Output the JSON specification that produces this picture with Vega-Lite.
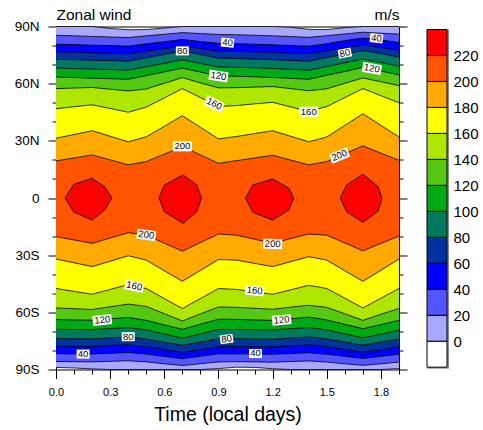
{
  "$schema": "https://vega.github.io/schema/vega-lite/v6.json",
  "padding": {"left": 13, "top": 6.5, "right": 0, "bottom": 0},
  "autosize": {"type": "pad"},
  "config": {
    "font": "Liberation Sans",
    "axis": {"tickColor": "black", "labelColor": "black", "titleColor": "black", "tickWidth": 1, "grid": false, "domain": false, "titleFontWeight": "normal", "labelFlush": false},
    "view": {"stroke": "black", "strokeWidth": 1}
  },
  "datasets": {
    "bands": [
      {"t":0,"lev":0,"s":-88.9,"n":90},{"t":0.1,"lev":0,"s":-89.2,"n":90},{"t":0.2,"lev":0,"s":-89.7,"n":90},{"t":0.3,"lev":0,"s":-90,"n":89.0},{"t":0.4,"lev":0,"s":-90,"n":88.3},{"t":0.5,"lev":0,"s":-90,"n":88.4},{"t":0.6,"lev":0,"s":-90,"n":89.2},{"t":0.7,"lev":0,"s":-90,"n":90},{"t":0.8,"lev":0,"s":-90,"n":90},{"t":0.9,"lev":0,"s":-89.5,"n":90},
      {"t":1.0,"lev":0,"s":-88.8,"n":90},{"t":1.1,"lev":0,"s":-88.9,"n":90},{"t":1.2,"lev":0,"s":-89.6,"n":90},{"t":1.3,"lev":0,"s":-90,"n":89.6},{"t":1.4,"lev":0,"s":-90,"n":88.5},{"t":1.5,"lev":0,"s":-90,"n":88.4},{"t":1.6,"lev":0,"s":-90,"n":89.4},{"t":1.7,"lev":0,"s":-90,"n":90},{"t":1.8,"lev":0,"s":-90,"n":90},{"t":1.9,"lev":0,"s":-89.5,"n":90},

      {"t":0,"lev":20,"s":-85.8,"n":85.4},{"t":0.1,"lev":20,"s":-85.9,"n":85.1},{"t":0.2,"lev":20,"s":-86.0,"n":84.8},{"t":0.3,"lev":20,"s":-85.7,"n":84.5},{"t":0.4,"lev":20,"s":-85.4,"n":84.2},{"t":0.5,"lev":20,"s":-86.0,"n":85.1},{"t":0.6,"lev":20,"s":-87.0,"n":85.9},{"t":0.7,"lev":20,"s":-87.9,"n":86.8},{"t":0.8,"lev":20,"s":-87.0,"n":86.3},{"t":0.9,"lev":20,"s":-86.0,"n":85.8},
      {"t":1.0,"lev":20,"s":-85.9,"n":85.7},{"t":1.1,"lev":20,"s":-86.0,"n":85.4},{"t":1.2,"lev":20,"s":-86.2,"n":85.1},{"t":1.3,"lev":20,"s":-85.8,"n":84.7},{"t":1.4,"lev":20,"s":-85.5,"n":84.3},{"t":1.5,"lev":20,"s":-86.1,"n":85.2},{"t":1.6,"lev":20,"s":-87.0,"n":86.1},{"t":1.7,"lev":20,"s":-87.8,"n":87.0},{"t":1.8,"lev":20,"s":-87.0,"n":86.5},{"t":1.9,"lev":20,"s":-86.1,"n":86.0},

      {"t":0,"lev":40,"s":-81.7,"n":80.7},{"t":0.1,"lev":40,"s":-81.8,"n":80.5},{"t":0.2,"lev":40,"s":-81.9,"n":80.2},{"t":0.3,"lev":40,"s":-81.5,"n":80.0},{"t":0.4,"lev":40,"s":-81.1,"n":79.7},{"t":0.5,"lev":40,"s":-81.9,"n":80.9},{"t":0.6,"lev":40,"s":-83.1,"n":82.0},{"t":0.7,"lev":40,"s":-84.3,"n":83.2},{"t":0.8,"lev":40,"s":-83.0,"n":82.1},{"t":0.9,"lev":40,"s":-81.8,"n":81.2},
      {"t":1.0,"lev":40,"s":-81.8,"n":81.0},{"t":1.1,"lev":40,"s":-81.9,"n":80.7},{"t":1.2,"lev":40,"s":-82.0,"n":80.4},{"t":1.3,"lev":40,"s":-81.6,"n":80.0},{"t":1.4,"lev":40,"s":-81.2,"n":79.7},{"t":1.5,"lev":40,"s":-82.0,"n":81.0},{"t":1.6,"lev":40,"s":-83.1,"n":82.6},{"t":1.7,"lev":40,"s":-84.2,"n":83.9},{"t":1.8,"lev":40,"s":-83.1,"n":82.9},{"t":1.9,"lev":40,"s":-82.0,"n":81.6},

      {"t":0,"lev":60,"s":-77.7,"n":76.7},{"t":0.1,"lev":60,"s":-77.8,"n":76.5},{"t":0.2,"lev":60,"s":-77.9,"n":76.2},{"t":0.3,"lev":60,"s":-77.4,"n":76.0},{"t":0.4,"lev":60,"s":-77.0,"n":75.7},{"t":0.5,"lev":60,"s":-78.0,"n":77.1},{"t":0.6,"lev":60,"s":-79.5,"n":78.4},{"t":0.7,"lev":60,"s":-81.0,"n":79.7},{"t":0.8,"lev":60,"s":-79.5,"n":78.4},{"t":0.9,"lev":60,"s":-77.9,"n":77.1},
      {"t":1.0,"lev":60,"s":-77.9,"n":76.9},{"t":1.1,"lev":60,"s":-78.0,"n":76.7},{"t":1.2,"lev":60,"s":-78.1,"n":76.4},{"t":1.3,"lev":60,"s":-77.6,"n":76.0},{"t":1.4,"lev":60,"s":-77.0,"n":75.7},{"t":1.5,"lev":60,"s":-78.0,"n":77.2},{"t":1.6,"lev":60,"s":-79.5,"n":78.7},{"t":1.7,"lev":60,"s":-80.9,"n":80.2},{"t":1.8,"lev":60,"s":-79.5,"n":78.9},{"t":1.9,"lev":60,"s":-78.0,"n":77.5},

      {"t":0,"lev":80,"s":-73.8,"n":72.8},{"t":0.1,"lev":80,"s":-73.9,"n":72.6},{"t":0.2,"lev":80,"s":-74.0,"n":72.3},{"t":0.3,"lev":80,"s":-73.4,"n":72.1},{"t":0.4,"lev":80,"s":-72.9,"n":71.8},{"t":0.5,"lev":80,"s":-74.0,"n":73.6},{"t":0.6,"lev":80,"s":-75.7,"n":75.3},{"t":0.7,"lev":80,"s":-77.3,"n":77.1},{"t":0.8,"lev":80,"s":-75.6,"n":75.3},{"t":0.9,"lev":80,"s":-73.9,"n":73.4},
      {"t":1.0,"lev":80,"s":-73.9,"n":73.2},{"t":1.1,"lev":80,"s":-74.0,"n":72.9},{"t":1.2,"lev":80,"s":-74.1,"n":72.6},{"t":1.3,"lev":80,"s":-73.5,"n":72.2},{"t":1.4,"lev":80,"s":-72.9,"n":71.8},{"t":1.5,"lev":80,"s":-74.0,"n":73.7},{"t":1.6,"lev":80,"s":-75.6,"n":75.5},{"t":1.7,"lev":80,"s":-77.2,"n":77.4},{"t":1.8,"lev":80,"s":-75.6,"n":75.8},{"t":1.9,"lev":80,"s":-74.0,"n":74.0},

      {"t":0,"lev":100,"s":-68.9,"n":68.2},{"t":0.1,"lev":100,"s":-69.0,"n":67.9},{"t":0.2,"lev":100,"s":-69.1,"n":67.7},{"t":0.3,"lev":100,"s":-68.5,"n":67.4},{"t":0.4,"lev":100,"s":-68.0,"n":67.1},{"t":0.5,"lev":100,"s":-69.2,"n":68.9},{"t":0.6,"lev":100,"s":-71.4,"n":70.7},{"t":0.7,"lev":100,"s":-73.5,"n":72.5},{"t":0.8,"lev":100,"s":-71.3,"n":70.6},{"t":0.9,"lev":100,"s":-69.0,"n":68.8},
      {"t":1.0,"lev":100,"s":-69.0,"n":68.6},{"t":1.1,"lev":100,"s":-69.1,"n":68.3},{"t":1.2,"lev":100,"s":-69.2,"n":68.0},{"t":1.3,"lev":100,"s":-68.6,"n":67.5},{"t":1.4,"lev":100,"s":-68.0,"n":67.1},{"t":1.5,"lev":100,"s":-69.2,"n":69.0},{"t":1.6,"lev":100,"s":-71.3,"n":71.0},{"t":1.7,"lev":100,"s":-73.4,"n":72.9},{"t":1.8,"lev":100,"s":-71.4,"n":71.1},{"t":1.9,"lev":100,"s":-69.3,"n":69.2},

      {"t":0,"lev":120,"s":-63.8,"n":63.5},{"t":0.1,"lev":120,"s":-64.0,"n":63.2},{"t":0.2,"lev":120,"s":-64.1,"n":62.9},{"t":0.3,"lev":120,"s":-63.4,"n":62.6},{"t":0.4,"lev":120,"s":-62.7,"n":62.3},{"t":0.5,"lev":120,"s":-64.2,"n":64.2},{"t":0.6,"lev":120,"s":-66.6,"n":66.2},{"t":0.7,"lev":120,"s":-68.9,"n":68.1},{"t":0.8,"lev":120,"s":-66.2,"n":66.1},{"t":0.9,"lev":120,"s":-63.6,"n":64.1},
      {"t":1.0,"lev":120,"s":-63.7,"n":63.9},{"t":1.1,"lev":120,"s":-64.0,"n":63.6},{"t":1.2,"lev":120,"s":-64.2,"n":63.2},{"t":1.3,"lev":120,"s":-63.4,"n":62.8},{"t":1.4,"lev":120,"s":-62.5,"n":62.3},{"t":1.5,"lev":120,"s":-64.0,"n":64.4},{"t":1.6,"lev":120,"s":-66.3,"n":66.4},{"t":1.7,"lev":120,"s":-68.6,"n":68.5},{"t":1.8,"lev":120,"s":-66.4,"n":66.6},{"t":1.9,"lev":120,"s":-64.2,"n":64.6},

      {"t":0,"lev":140,"s":-57.7,"n":57.4},{"t":0.1,"lev":140,"s":-58.1,"n":57.7},{"t":0.2,"lev":140,"s":-58.5,"n":58.0},{"t":0.3,"lev":140,"s":-57.1,"n":57.1},{"t":0.4,"lev":140,"s":-55.7,"n":56.2},{"t":0.5,"lev":140,"s":-56.9,"n":57.2},{"t":0.6,"lev":140,"s":-60.7,"n":60.2},{"t":0.7,"lev":140,"s":-64.5,"n":63.2},{"t":0.8,"lev":140,"s":-60.8,"n":60.4},{"t":0.9,"lev":140,"s":-57.2,"n":57.8},
      {"t":1.0,"lev":140,"s":-57.4,"n":57.9},{"t":1.1,"lev":140,"s":-57.9,"n":58.2},{"t":1.2,"lev":140,"s":-58.4,"n":58.5},{"t":1.3,"lev":140,"s":-57.3,"n":57.4},{"t":1.4,"lev":140,"s":-56.3,"n":56.3},{"t":1.5,"lev":140,"s":-57.4,"n":57.3},{"t":1.6,"lev":140,"s":-60.8,"n":60.2},{"t":1.7,"lev":140,"s":-64.2,"n":63.0},{"t":1.8,"lev":140,"s":-61.0,"n":61.0},{"t":1.9,"lev":140,"s":-58.0,"n":59.0},

      {"t":0,"lev":160,"s":-47.5,"n":46.8},{"t":0.1,"lev":160,"s":-49.0,"n":47.9},{"t":0.2,"lev":160,"s":-50.5,"n":48.9},{"t":0.3,"lev":160,"s":-48.0,"n":47.0},{"t":0.4,"lev":160,"s":-45.4,"n":45.0},{"t":0.5,"lev":160,"s":-47.5,"n":47.7},{"t":0.6,"lev":160,"s":-52.8,"n":52.5},{"t":0.7,"lev":160,"s":-58.0,"n":57.4},{"t":0.8,"lev":160,"s":-52.8,"n":52.7},{"t":0.9,"lev":160,"s":-47.5,"n":48.0},
      {"t":1.0,"lev":160,"s":-48.0,"n":48.5},{"t":1.1,"lev":160,"s":-49.3,"n":49.4},{"t":1.2,"lev":160,"s":-50.5,"n":50.2},{"t":1.3,"lev":160,"s":-48.2,"n":47.8},{"t":1.4,"lev":160,"s":-45.8,"n":45.4},{"t":1.5,"lev":160,"s":-47.5,"n":48.0},{"t":1.6,"lev":160,"s":-52.6,"n":52.7},{"t":1.7,"lev":160,"s":-57.7,"n":57.4},{"t":1.8,"lev":160,"s":-52.6,"n":53.7},{"t":1.9,"lev":160,"s":-47.5,"n":50.0},

      {"t":0,"lev":180,"s":-32.0,"n":31.4},{"t":0.1,"lev":180,"s":-34.0,"n":33.3},{"t":0.2,"lev":180,"s":-36.0,"n":35.3},{"t":0.3,"lev":180,"s":-33.2,"n":32.4},{"t":0.4,"lev":180,"s":-30.3,"n":29.5},{"t":0.5,"lev":180,"s":-32.6,"n":32.1},{"t":0.6,"lev":180,"s":-38.2,"n":37.6},{"t":0.7,"lev":180,"s":-43.7,"n":43.2},{"t":0.8,"lev":180,"s":-38.0,"n":37.1},{"t":0.9,"lev":180,"s":-32.3,"n":31.0},
      {"t":1.0,"lev":180,"s":-32.6,"n":32.3},{"t":1.1,"lev":180,"s":-34.3,"n":33.8},{"t":1.2,"lev":180,"s":-36.0,"n":35.3},{"t":1.3,"lev":180,"s":-33.4,"n":32.4},{"t":1.4,"lev":180,"s":-30.8,"n":29.5},{"t":1.5,"lev":180,"s":-32.6,"n":32.0},{"t":1.6,"lev":180,"s":-38.2,"n":38.1},{"t":1.7,"lev":180,"s":-43.7,"n":44.2},{"t":1.8,"lev":180,"s":-37.9,"n":38.1},{"t":1.9,"lev":180,"s":-32.0,"n":32.0},

      {"t":0,"lev":200,"s":-20.3,"n":19.5},{"t":0.1,"lev":200,"s":-22.0,"n":21.0},{"t":0.2,"lev":200,"s":-23.8,"n":22.6},{"t":0.3,"lev":200,"s":-21.0,"n":20.0},{"t":0.4,"lev":200,"s":-18.2,"n":17.4},{"t":0.5,"lev":200,"s":-19.5,"n":19.1},{"t":0.6,"lev":200,"s":-23.7,"n":23.0},{"t":0.7,"lev":200,"s":-27.9,"n":27.0},{"t":0.8,"lev":200,"s":-23.4,"n":22.6},{"t":0.9,"lev":200,"s":-18.9,"n":18.2},
      {"t":1.0,"lev":200,"s":-19.5,"n":19.6},{"t":1.1,"lev":200,"s":-21.6,"n":21.0},{"t":1.2,"lev":200,"s":-23.8,"n":22.4},{"t":1.3,"lev":200,"s":-21.3,"n":19.9},{"t":1.4,"lev":200,"s":-18.9,"n":17.4},{"t":1.5,"lev":200,"s":-19.5,"n":19.1},{"t":1.6,"lev":200,"s":-23.6,"n":23.2},{"t":1.7,"lev":200,"s":-27.7,"n":27.4},{"t":1.8,"lev":200,"s":-23.8,"n":23.5},{"t":1.9,"lev":200,"s":-20.0,"n":19.8}
    ],
    "blobs": [
      {"t":0.05,"blob":1,"s":0,"n":0},{"t":0.1,"blob":1,"s":-7.5,"n":7.2},{"t":0.2,"blob":1,"s":-11.6,"n":10.3},{"t":0.27,"blob":1,"s":-6.3,"n":5.9},{"t":0.31,"blob":1,"s":0,"n":0},
      {"t":0.57,"blob":2,"s":0,"n":0},{"t":0.6,"blob":2,"s":-7.2,"n":6.8},{"t":0.705,"blob":2,"s":-13.3,"n":12.1},{"t":0.78,"blob":2,"s":-7.2,"n":6.8},{"t":0.806,"blob":2,"s":0,"n":0},
      {"t":1.05,"blob":3,"s":0,"n":0},{"t":1.09,"blob":3,"s":-7.5,"n":6.8},{"t":1.2,"blob":3,"s":-11.6,"n":10.0},{"t":1.29,"blob":3,"s":-6.3,"n":5.1},{"t":1.317,"blob":3,"s":0,"n":0},
      {"t":1.575,"blob":4,"s":0,"n":0},{"t":1.61,"blob":4,"s":-7.2,"n":6.8},{"t":1.7,"blob":4,"s":-12.8,"n":12.5},{"t":1.785,"blob":4,"s":-6.8,"n":5.9},{"t":1.806,"blob":4,"s":0,"n":0}
    ],
    "labels": [
      {"t":0.95,"lat":81.5,"txt":"40","ang":6},
      {"t":1.775,"lat":83.8,"txt":"40","ang":7},
      {"t":0.7,"lat":77.2,"txt":"80","ang":0},
      {"t":1.6,"lat":76.0,"txt":"80","ang":-11},
      {"t":0.9,"lat":64.0,"txt":"120","ang":9},
      {"t":1.75,"lat":68.0,"txt":"120","ang":10},
      {"t":0.876,"lat":49.4,"txt":"160","ang":27},
      {"t":1.4,"lat":45.3,"txt":"160","ang":0},
      {"t":0.7,"lat":27.1,"txt":"200","ang":0},
      {"t":1.57,"lat":22.3,"txt":"200","ang":-22},
      {"t":0.5,"lat":-19.4,"txt":"200","ang":8},
      {"t":1.2,"lat":-24.1,"txt":"200","ang":2},
      {"t":0.433,"lat":-46.2,"txt":"160","ang":12},
      {"t":1.1,"lat":-48.6,"txt":"160","ang":6},
      {"t":0.256,"lat":-64.0,"txt":"120","ang":-6},
      {"t":1.25,"lat":-64.0,"txt":"120","ang":-5},
      {"t":0.4,"lat":-72.8,"txt":"80","ang":0},
      {"t":0.945,"lat":-74.0,"txt":"80","ang":-8},
      {"t":0.15,"lat":-81.9,"txt":"40","ang":0},
      {"t":1.105,"lat":-81.6,"txt":"40","ang":0}
    ],
    "bar": [
      {"lo":-20,"hi":0,"lev":-20},{"lo":0,"hi":20,"lev":0},{"lo":20,"hi":40,"lev":20},{"lo":40,"hi":60,"lev":40},{"lo":60,"hi":80,"lev":60},{"lo":80,"hi":100,"lev":80},{"lo":100,"hi":120,"lev":100},{"lo":120,"hi":140,"lev":120},{"lo":140,"hi":160,"lev":140},{"lo":160,"hi":180,"lev":160},{"lo":180,"hi":200,"lev":180},{"lo":200,"hi":220,"lev":200},{"lo":220,"hi":240,"lev":220}
    ]
  },
  "bounds": "flush",
  "spacing": 28,
  "hconcat": [
    {
      "width": 343,
      "height": 343,
      "resolve": {"axis": {"x": "independent", "y": "independent"}},
      "layer": [
        {
          "data": {"name": "bands"},
          "mark": {"type": "area"},
          "encoding": {
            "x": {"field": "t", "type": "quantitative", "scale": {"domain": [0, 1.9], "nice": false, "zero": false},
              "axis": {"orient": "bottom", "values": [0, 0.3, 0.6, 0.9, 1.2, 1.5, 1.8], "format": ".1f", "tickSize": 9, "labelPadding": 8, "labelFontSize": 11, "title": "Time (local days)", "titleFontSize": 19.5, "titlePadding": 8}},
            "y": {"field": "s", "type": "quantitative", "stack": null, "scale": {"domain": [-90, 90], "nice": false, "zero": false},
              "axis": {"orient": "left", "values": [-90, -60, -30, 0, 30, 60, 90], "labelExpr": "datum.value > 0 ? datum.value + 'N' : (datum.value < 0 ? (-datum.value) + 'S' : '0')", "tickSize": 8, "labelPadding": 9, "labelFontSize": 13.5, "title": null}},
            "y2": {"field": "n"},
            "color": {"field": "lev", "type": "ordinal", "legend": null,
              "scale": {"domain": [-20, 0, 20, 40, 60, 80, 100, 120, 140, 160, 180, 200, 220],
                "range": ["#FFFFFF", "#A8A8FF", "#5555FF", "#0000FF", "#0033A0", "#007A5E", "#00AA14", "#55C814", "#AFE600", "#FFFF00", "#FFAA00", "#FF5500", "#FF0000"]}}
          }
        },
        {
          "data": {"name": "blobs"},
          "mark": {"type": "area", "color": "#FF0000"},
          "encoding": {
            "x": {"field": "t", "type": "quantitative", "scale": {"domain": [0, 1.9], "nice": false, "zero": false},
              "axis": {"orient": "bottom", "values": [0, 0.1, 0.2, 0.3, 0.4, 0.5, 0.6, 0.7, 0.8, 0.9, 1.0, 1.1, 1.2, 1.3, 1.4, 1.5, 1.6, 1.7, 1.8, 1.9], "tickSize": 4.5, "labels": false, "title": null}},
            "y": {"field": "s", "type": "quantitative", "stack": null, "scale": {"domain": [-90, 90], "nice": false, "zero": false},
              "axis": {"orient": "left", "values": [-80, -70, -50, -40, -20, -10, 10, 20, 40, 50, 70, 80], "tickSize": 4, "labels": false, "title": null}},
            "y2": {"field": "n"},
            "detail": {"field": "blob"}
          }
        },
        {
          "data": {"name": "bands"},
          "mark": {"type": "line", "color": "black", "strokeWidth": 0.8},
          "encoding": {
            "x": {"field": "t", "type": "quantitative", "scale": {"domain": [0, 1.9], "nice": false, "zero": false},
              "axis": {"orient": "top", "ticks": false, "labels": false, "title": "Zonal wind", "titleAnchor": "start", "titleAlign": "left", "titleBaseline": "alphabetic", "titlePadding": 7, "titleFontSize": 15.5, "minExtent": 0, "maxExtent": 0}},
            "y": {"field": "n", "type": "quantitative", "scale": {"domain": [-90, 90], "nice": false, "zero": false},
              "axis": {"orient": "right", "values": [-90, -60, -30, 0, 30, 60, 90], "tickSize": 8, "labels": false, "title": null}},
            "detail": {"field": "lev"}
          }
        },
        {
          "data": {"name": "bands"},
          "mark": {"type": "line", "color": "black", "strokeWidth": 0.8},
          "encoding": {
            "x": {"field": "t", "type": "quantitative", "scale": {"domain": [0, 1.9], "nice": false, "zero": false},
              "axis": {"orient": "top", "ticks": false, "labels": false, "title": "m/s", "titleAnchor": "end", "titleAlign": "right", "titleBaseline": "alphabetic", "titlePadding": 7, "titleFontSize": 15.5, "minExtent": 0, "maxExtent": 0}},
            "y": {"field": "s", "type": "quantitative", "scale": {"domain": [-90, 90], "nice": false, "zero": false},
              "axis": {"orient": "right", "values": [-80, -70, -50, -40, -20, -10, 10, 20, 40, 50, 70, 80], "tickSize": 4, "labels": false, "title": null}},
            "detail": {"field": "lev"}
          }
        },
        {
          "data": {"name": "blobs"},
          "mark": {"type": "line", "color": "black", "strokeWidth": 0.8},
          "encoding": {
            "x": {"field": "t", "type": "quantitative", "scale": {"domain": [0, 1.9], "nice": false, "zero": false}, "axis": null},
            "y": {"field": "n", "type": "quantitative", "scale": {"domain": [-90, 90], "nice": false, "zero": false}, "axis": null},
            "detail": {"field": "blob"}
          }
        },
        {
          "data": {"name": "blobs"},
          "mark": {"type": "line", "color": "black", "strokeWidth": 0.8},
          "encoding": {
            "x": {"field": "t", "type": "quantitative", "scale": {"domain": [0, 1.9], "nice": false, "zero": false}, "axis": null},
            "y": {"field": "s", "type": "quantitative", "scale": {"domain": [-90, 90], "nice": false, "zero": false}, "axis": null},
            "detail": {"field": "blob"}
          }
        },
        {
          "data": {"name": "labels"},
          "mark": {"type": "point", "filled": true, "fill": "white", "opacity": 1, "strokeWidth": 0, "size": 361},
          "encoding": {
            "x": {"field": "t", "type": "quantitative", "scale": {"domain": [0, 1.9], "nice": false, "zero": false}, "axis": null},
            "y": {"field": "lat", "type": "quantitative", "scale": {"domain": [-90, 90], "nice": false, "zero": false}, "axis": null},
            "shape": {"field": "txt", "type": "nominal", "legend": null,
              "scale": {"domain": ["40", "80", "120", "160", "200"],
                "range": ["M-0.684,-0.474L0.684,-0.474L0.684,0.474L-0.684,0.474Z", "M-0.684,-0.474L0.684,-0.474L0.684,0.474L-0.684,0.474Z", "M-1,-0.526L1,-0.526L1,0.526L-1,0.526Z", "M-1,-0.526L1,-0.526L1,0.526L-1,0.526Z", "M-1,-0.526L1,-0.526L1,0.526L-1,0.526Z"]}},
            "angle": {"field": "ang", "type": "quantitative", "scale": null}
          }
        },
        {
          "data": {"name": "labels"},
          "mark": {"type": "text", "fontSize": 9.5, "color": "black", "align": "center", "baseline": "middle"},
          "encoding": {
            "x": {"field": "t", "type": "quantitative", "scale": {"domain": [0, 1.9], "nice": false, "zero": false}, "axis": null},
            "y": {"field": "lat", "type": "quantitative", "scale": {"domain": [-90, 90], "nice": false, "zero": false}, "axis": null},
            "text": {"field": "txt"},
            "angle": {"field": "ang", "type": "quantitative", "scale": null}
          }
        }
      ]
    },
    {
      "width": 20,
      "height": 343,
      "view": {"stroke": null},
      "data": {"name": "bar"},
      "layer": [
        {
          "mark": {"type": "rect", "color": "#8C8C8C", "xOffset": 2, "yOffset": 1.5},
          "encoding": {
            "y": {"field": "lo", "type": "quantitative", "scale": {"domain": [-21.8, 242.3], "nice": false, "zero": false},
              "axis": {"orient": "right", "values": [0, 20, 40, 60, 80, 100, 120, 140, 160, 180, 200, 220], "ticks": false, "labelPadding": 6, "labelFontSize": 15, "labelBaseline": "middle", "title": null}},
            "y2": {"field": "hi"}
          }
        },
        {
          "mark": {"type": "rect", "stroke": "black", "strokeWidth": 1},
          "encoding": {
            "y": {"field": "lo", "type": "quantitative", "scale": {"domain": [-21.8, 242.3], "nice": false, "zero": false},
              "axis": {"orient": "right", "values": [0, 20, 40, 60, 80, 100, 120, 140, 160, 180, 200, 220], "ticks": false, "labelPadding": 6, "labelFontSize": 15, "labelBaseline": "middle", "title": null}},
            "y2": {"field": "hi"},
            "color": {"field": "lev", "type": "ordinal", "legend": null,
              "scale": {"domain": [-20, 0, 20, 40, 60, 80, 100, 120, 140, 160, 180, 200, 220],
                "range": ["#FFFFFF", "#A8A8FF", "#5555FF", "#0000FF", "#0033A0", "#007A5E", "#00AA14", "#55C814", "#AFE600", "#FFFF00", "#FFAA00", "#FF5500", "#FF0000"]}}
          }
        }
      ]
    }
  ]
}
